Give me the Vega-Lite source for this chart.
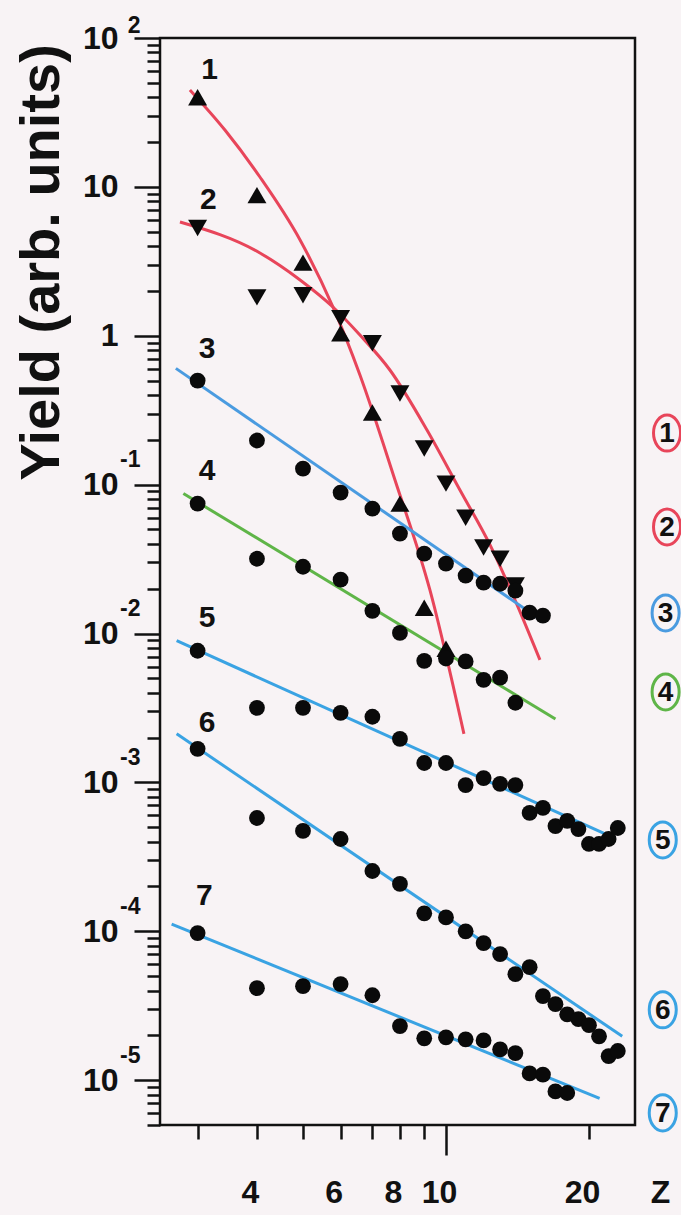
{
  "$schema": "https://vega.github.io/schema/vega-lite/v6.json",
  "width": 475,
  "height": 1087,
  "autosize": "none",
  "padding": {"left": 160, "top": 38, "right": 46, "bottom": 90},
  "background": "#f8f3f5",
  "config": {
    "view": {"stroke": "#111111", "strokeWidth": 2.5},
    "font": "Liberation Sans",
    "axis": {"grid": false}
  },
  "datasets": {
    "curves": [
      {"s": "1", "i": 0, "Z": 2.89, "Y": 44.8},
      {"s": "1", "i": 1, "Z": 3.425, "Y": 24.1},
      {"s": "1", "i": 2, "Z": 4.058, "Y": 11.65},
      {"s": "1", "i": 3, "Z": 4.93, "Y": 4.4},
      {"s": "1", "i": 4, "Z": 5.78, "Y": 1.561},
      {"s": "1", "i": 5, "Z": 6.59, "Y": 0.545},
      {"s": "1", "i": 6, "Z": 7.81, "Y": 0.1075},
      {"s": "1", "i": 7, "Z": 9.25, "Y": 0.01963},
      {"s": "1", "i": 8, "Z": 10.91, "Y": 0.002117},
      {"s": "2", "i": 0, "Z": 2.754, "Y": 5.81},
      {"s": "2", "i": 1, "Z": 4.058, "Y": 3.6},
      {"s": "2", "i": 2, "Z": 4.93, "Y": 2.37},
      {"s": "2", "i": 3, "Z": 5.78, "Y": 1.561},
      {"s": "2", "i": 4, "Z": 6.59, "Y": 1.012},
      {"s": "2", "i": 5, "Z": 7.62, "Y": 0.589},
      {"s": "2", "i": 6, "Z": 9.12, "Y": 0.233},
      {"s": "2", "i": 7, "Z": 10.7, "Y": 0.0921},
      {"s": "2", "i": 8, "Z": 12.38, "Y": 0.0394},
      {"s": "2", "i": 9, "Z": 13.97, "Y": 0.01683},
      {"s": "2", "i": 10, "Z": 15.77, "Y": 0.00665},
      {"s": "3", "i": 0, "Z": 2.70, "Y": 0.604},
      {"s": "3", "i": 1, "Z": 15.6, "Y": 0.01277},
      {"s": "4", "i": 0, "Z": 2.80, "Y": 0.0871},
      {"s": "4", "i": 1, "Z": 17.0, "Y": 0.00267},
      {"s": "5", "i": 0, "Z": 2.71, "Y": 0.00895},
      {"s": "5", "i": 1, "Z": 22.1, "Y": 0.000437},
      {"s": "6", "i": 0, "Z": 2.71, "Y": 0.00212},
      {"s": "6", "i": 1, "Z": 23.5, "Y": 0.0000197},
      {"s": "7", "i": 0, "Z": 2.645, "Y": 0.0001117},
      {"s": "7", "i": 1, "Z": 21.06, "Y": 0.00000755}
    ],
    "points": [
      {"s": "1", "m": "up", "Z": 3, "Y": 40},
      {"s": "1", "m": "up", "Z": 4, "Y": 8.8},
      {"s": "1", "m": "up", "Z": 5, "Y": 3.1},
      {"s": "1", "m": "up", "Z": 6, "Y": 1.04},
      {"s": "1", "m": "up", "Z": 7, "Y": 0.305},
      {"s": "1", "m": "up", "Z": 8, "Y": 0.0746},
      {"s": "1", "m": "up", "Z": 9, "Y": 0.0149},
      {"s": "1", "m": "up", "Z": 10, "Y": 0.0079},
      {"s": "2", "m": "down", "Z": 3, "Y": 5.3},
      {"s": "2", "m": "down", "Z": 4, "Y": 1.81},
      {"s": "2", "m": "down", "Z": 5, "Y": 1.87},
      {"s": "2", "m": "down", "Z": 6, "Y": 1.31},
      {"s": "2", "m": "down", "Z": 7, "Y": 0.89},
      {"s": "2", "m": "down", "Z": 8, "Y": 0.41},
      {"s": "2", "m": "down", "Z": 9, "Y": 0.175},
      {"s": "2", "m": "down", "Z": 10, "Y": 0.1016},
      {"s": "2", "m": "down", "Z": 11, "Y": 0.06},
      {"s": "2", "m": "down", "Z": 12, "Y": 0.0378},
      {"s": "2", "m": "down", "Z": 13, "Y": 0.0318},
      {"s": "2", "m": "down", "Z": 14, "Y": 0.021},
      {"s": "3", "m": "circle", "Z": 3, "Y": 0.5},
      {"s": "3", "m": "circle", "Z": 4, "Y": 0.198},
      {"s": "3", "m": "circle", "Z": 5, "Y": 0.128},
      {"s": "3", "m": "circle", "Z": 6, "Y": 0.0885},
      {"s": "3", "m": "circle", "Z": 7, "Y": 0.069},
      {"s": "3", "m": "circle", "Z": 8, "Y": 0.0469},
      {"s": "3", "m": "circle", "Z": 9, "Y": 0.0344},
      {"s": "3", "m": "circle", "Z": 10, "Y": 0.0295},
      {"s": "3", "m": "circle", "Z": 11, "Y": 0.0245},
      {"s": "3", "m": "circle", "Z": 12, "Y": 0.022},
      {"s": "3", "m": "circle", "Z": 13, "Y": 0.0216},
      {"s": "3", "m": "circle", "Z": 14, "Y": 0.0194},
      {"s": "3", "m": "circle", "Z": 15, "Y": 0.0138},
      {"s": "3", "m": "circle", "Z": 16, "Y": 0.0132},
      {"s": "4", "m": "circle", "Z": 3, "Y": 0.0746},
      {"s": "4", "m": "circle", "Z": 4, "Y": 0.0318},
      {"s": "4", "m": "circle", "Z": 5, "Y": 0.0281},
      {"s": "4", "m": "circle", "Z": 6, "Y": 0.023},
      {"s": "4", "m": "circle", "Z": 7, "Y": 0.0142},
      {"s": "4", "m": "circle", "Z": 8, "Y": 0.0101},
      {"s": "4", "m": "circle", "Z": 9, "Y": 0.00656},
      {"s": "4", "m": "circle", "Z": 10, "Y": 0.0068},
      {"s": "4", "m": "circle", "Z": 11, "Y": 0.0065},
      {"s": "4", "m": "circle", "Z": 12, "Y": 0.00489},
      {"s": "4", "m": "circle", "Z": 13, "Y": 0.00505},
      {"s": "4", "m": "circle", "Z": 14, "Y": 0.00343},
      {"s": "5", "m": "circle", "Z": 3, "Y": 0.00766},
      {"s": "5", "m": "circle", "Z": 4, "Y": 0.00317},
      {"s": "5", "m": "circle", "Z": 5, "Y": 0.00317},
      {"s": "5", "m": "circle", "Z": 6, "Y": 0.00293},
      {"s": "5", "m": "circle", "Z": 7, "Y": 0.00276},
      {"s": "5", "m": "circle", "Z": 8, "Y": 0.00196},
      {"s": "5", "m": "circle", "Z": 9, "Y": 0.00135},
      {"s": "5", "m": "circle", "Z": 10, "Y": 0.00135},
      {"s": "5", "m": "circle", "Z": 11, "Y": 0.00096},
      {"s": "5", "m": "circle", "Z": 12, "Y": 0.00107},
      {"s": "5", "m": "circle", "Z": 13, "Y": 0.000977},
      {"s": "5", "m": "circle", "Z": 14, "Y": 0.00096},
      {"s": "5", "m": "circle", "Z": 15, "Y": 0.000624},
      {"s": "5", "m": "circle", "Z": 16, "Y": 0.000674},
      {"s": "5", "m": "circle", "Z": 17, "Y": 0.000509},
      {"s": "5", "m": "circle", "Z": 18, "Y": 0.000551},
      {"s": "5", "m": "circle", "Z": 19, "Y": 0.000486},
      {"s": "5", "m": "circle", "Z": 20, "Y": 0.000386},
      {"s": "5", "m": "circle", "Z": 21, "Y": 0.000386},
      {"s": "5", "m": "circle", "Z": 22, "Y": 0.000417},
      {"s": "5", "m": "circle", "Z": 23, "Y": 0.000494},
      {"s": "6", "m": "circle", "Z": 3, "Y": 0.00168},
      {"s": "6", "m": "circle", "Z": 4, "Y": 0.000577},
      {"s": "6", "m": "circle", "Z": 5, "Y": 0.000472},
      {"s": "6", "m": "circle", "Z": 6, "Y": 0.000417},
      {"s": "6", "m": "circle", "Z": 7, "Y": 0.000254},
      {"s": "6", "m": "circle", "Z": 8, "Y": 0.000208},
      {"s": "6", "m": "circle", "Z": 9, "Y": 0.000132},
      {"s": "6", "m": "circle", "Z": 10, "Y": 0.000124},
      {"s": "6", "m": "circle", "Z": 11, "Y": 0.0001},
      {"s": "6", "m": "circle", "Z": 12, "Y": 0.0000833},
      {"s": "6", "m": "circle", "Z": 13, "Y": 0.0000703},
      {"s": "6", "m": "circle", "Z": 14, "Y": 0.0000515},
      {"s": "6", "m": "circle", "Z": 15, "Y": 0.0000574},
      {"s": "6", "m": "circle", "Z": 16, "Y": 0.0000367},
      {"s": "6", "m": "circle", "Z": 17, "Y": 0.0000324},
      {"s": "6", "m": "circle", "Z": 18, "Y": 0.0000277},
      {"s": "6", "m": "circle", "Z": 19, "Y": 0.0000257},
      {"s": "6", "m": "circle", "Z": 20, "Y": 0.0000234},
      {"s": "6", "m": "circle", "Z": 21, "Y": 0.0000197},
      {"s": "6", "m": "circle", "Z": 22, "Y": 0.0000145},
      {"s": "6", "m": "circle", "Z": 23, "Y": 0.0000157},
      {"s": "7", "m": "circle", "Z": 3, "Y": 0.0000973},
      {"s": "7", "m": "circle", "Z": 4, "Y": 0.0000415},
      {"s": "7", "m": "circle", "Z": 5, "Y": 0.0000428},
      {"s": "7", "m": "circle", "Z": 6, "Y": 0.0000442},
      {"s": "7", "m": "circle", "Z": 7, "Y": 0.0000372},
      {"s": "7", "m": "circle", "Z": 8, "Y": 0.0000231},
      {"s": "7", "m": "circle", "Z": 9, "Y": 0.0000191},
      {"s": "7", "m": "circle", "Z": 10, "Y": 0.0000194},
      {"s": "7", "m": "circle", "Z": 11, "Y": 0.0000188},
      {"s": "7", "m": "circle", "Z": 12, "Y": 0.0000185},
      {"s": "7", "m": "circle", "Z": 13, "Y": 0.0000161},
      {"s": "7", "m": "circle", "Z": 14, "Y": 0.0000152},
      {"s": "7", "m": "circle", "Z": 15, "Y": 0.0000111},
      {"s": "7", "m": "circle", "Z": 16, "Y": 0.0000109},
      {"s": "7", "m": "circle", "Z": 17, "Y": 0.0000084},
      {"s": "7", "m": "circle", "Z": 18, "Y": 0.0000082}
    ],
    "labels": [
      {"t": "1", "Z": 3.18, "Y": 61},
      {"t": "2", "Z": 3.16, "Y": 8.14},
      {"t": "3", "Z": 3.14, "Y": 0.82},
      {"t": "4", "Z": 3.14, "Y": 0.124},
      {"t": "5", "Z": 3.14, "Y": 0.0128},
      {"t": "6", "Z": 3.14, "Y": 0.00251},
      {"t": "7", "Z": 3.1, "Y": 0.000173}
    ],
    "keys": [
      {"s": "1", "Z": 29.2, "Y": 0.222},
      {"s": "2", "Z": 29.2, "Y": 0.052},
      {"s": "3", "Z": 29.0, "Y": 0.01375},
      {"s": "4", "Z": 29.0, "Y": 0.00405},
      {"s": "5", "Z": 28.6, "Y": 0.000411},
      {"s": "6", "Z": 28.6, "Y": 0.0000297},
      {"s": "7", "Z": 28.6, "Y": 0.00000603}
    ]
  },
  "resolve": {"axis": {"x": "independent", "y": "independent"}},
  "layer": [
    {
      "data": {"name": "curves"},
      "mark": {"type": "line", "strokeWidth": 3, "clip": true, "interpolate": "monotone"},
      "encoding": {
        "x": {"field": "Z", "type": "quantitative", "scale": {"type": "log", "domain": [2.5, 25], "nice": false},
          "axis": {
            "orient": "bottom",
            "values": [3, 4, 5, 6, 7, 8, 9, 10, 20],
            "labelExpr": "indexof([4, 6, 8, 10, 20], datum.value) >= 0 ? '' + datum.value : ''",
            "domain": false,
            "tickColor": "#111111",
            "tickWidth": 2.5,
            "tickSize": {"condition": {"test": "datum.value == 10", "value": 30}, "value": 14},
            "labelFont": "Liberation Sans",
            "labelFontSize": 32,
            "labelFontWeight": "bold",
            "labelColor": "#111111",
            "labelPadding": {"condition": {"test": "datum.value == 10", "value": 22}, "value": 38},
            "labelBaseline": "top",
            "labelOffset": -7,
            "labelFlush": false,
            "labelOverlap": false,
            "labelBound": false,
            "title": "Z",
            "titleFont": "Liberation Sans",
            "titleFontSize": 32,
            "titleFontWeight": "bold",
            "titleColor": "#111111",
            "titleX": 500,
            "titleY": 52,
            "titleBaseline": "top",
            "titleAlign": "center",
            "titleAngle": 0
          }
        },
        "y": {"field": "Y", "type": "quantitative", "scale": {"type": "log", "domain": [0.000005, 100], "nice": false},
          "axis": {
            "orient": "left",
            "values": [0.000005, 0.000006, 0.000007, 0.000008, 0.000009, 0.00001, 0.00002, 0.00003, 0.00004, 0.00005, 0.00006, 0.00007, 0.00008, 0.00009, 0.0001, 0.0002, 0.0003, 0.0004, 0.0005, 0.0006, 0.0007, 0.0008, 0.0009, 0.001, 0.002, 0.003, 0.004, 0.005, 0.006, 0.007, 0.008, 0.009, 0.01, 0.02, 0.03, 0.04, 0.05, 0.06, 0.07, 0.08, 0.09, 0.1, 0.2, 0.3, 0.4, 0.5, 0.6, 0.7, 0.8, 0.9, 1, 2, 3, 4, 5, 6, 7, 8, 9, 10, 20, 30, 40, 50, 60, 70, 80, 90, 100],
            "labelExpr": "abs(log(datum.value)/LN10 - round(log(datum.value)/LN10)) < 0.001 ? (datum.value > 0.5 && datum.value < 2 ? '1' : '10') : ''",
            "domain": false,
            "tickColor": "#111111",
            "tickWidth": 2.5,
            "tickSize": {"condition": {"test": "abs(log(datum.value)/LN10 - round(log(datum.value)/LN10)) < 0.001", "value": 26}, "value": 13},
            "labelFont": "Liberation Sans",
            "labelFontSize": 32,
            "labelFontWeight": "bold",
            "labelColor": "#111111",
            "labelPadding": 16,
            "labelBaseline": "middle",
            "labelFlush": false,
            "labelOverlap": false,
            "labelBound": false,
            "title": "Yield (arb. units)",
            "titleFont": "Liberation Sans",
            "titleFontSize": 56,
            "titleFontWeight": "bold",
            "titleColor": "#111111",
            "titleAngle": -90,
            "titleX": -102,
            "titleY": 224,
            "titleAlign": "center",
            "titleBaseline": "alphabetic"
          }
        },
        "color": {"field": "s", "type": "nominal", "scale": {"domain": ["1", "2", "3", "4", "5", "6", "7"], "range": ["#e8455a", "#e8455a", "#4a9be0", "#5fb548", "#3aa3e3", "#3aa3e3", "#3aa3e3"]}, "legend": null},
        "order": {"field": "i", "type": "quantitative"}
      }
    },
    {
      "data": {"name": "points"},
      "mark": {"type": "point", "filled": true, "color": "#0a0a0a", "opacity": 1},
      "encoding": {
        "x": {"field": "Z", "type": "quantitative", "scale": {"type": "log", "domain": [2.5, 25], "nice": false}, "axis": null},
        "y": {"field": "Y", "type": "quantitative", "scale": {"type": "log", "domain": [0.000005, 100], "nice": false},
          "axis": {
            "orient": "left",
            "values": [0.00001, 0.0001, 0.001, 0.01, 0.1, 100],
            "labelExpr": "'' + round(log(datum.value)/LN10)",
            "domain": false,
            "ticks": false,
            "tickSize": 0,
            "labelFont": "Liberation Sans",
            "labelFontSize": 23,
            "labelFontWeight": "bold",
            "labelColor": "#111111",
            "labelPadding": 20,
            "labelAlign": "right",
            "labelBaseline": "middle",
            "labelOffset": {"condition": {"test": "datum.value > 50", "value": -13}, "value": -25},
            "labelFlush": false,
            "labelOverlap": false,
            "labelBound": false,
            "title": null
          }
        },
        "shape": {"field": "m", "type": "nominal", "scale": {"domain": ["circle", "up", "down"], "range": ["circle", "triangle-up", "triangle-down"]}, "legend": null},
        "size": {"condition": {"test": "datum.m == 'circle'", "value": 250}, "value": 360}
      }
    },
    {
      "data": {"name": "labels"},
      "mark": {"type": "text", "font": "Liberation Sans", "fontSize": 30, "fontWeight": "bold", "color": "#111111", "align": "center", "baseline": "middle"},
      "encoding": {
        "x": {"field": "Z", "type": "quantitative", "scale": {"type": "log", "domain": [2.5, 25], "nice": false}, "axis": null},
        "y": {"field": "Y", "type": "quantitative", "scale": {"type": "log", "domain": [0.000005, 100], "nice": false}, "axis": null},
        "text": {"field": "t"}
      }
    },
    {
      "data": {"name": "keys"},
      "mark": {"type": "point", "filled": false, "strokeWidth": 3, "opacity": 1, "size": 1300, "shape": "M0,-1A0.75,1 0 1,1 0,1A0.75,1 0 1,1 0,-1Z"},
      "encoding": {
        "x": {"field": "Z", "type": "quantitative", "scale": {"type": "log", "domain": [2.5, 25], "nice": false}, "axis": null},
        "y": {"field": "Y", "type": "quantitative", "scale": {"type": "log", "domain": [0.000005, 100], "nice": false}, "axis": null},
        "color": {"field": "s", "type": "nominal", "legend": null}
      }
    },
    {
      "data": {"name": "keys"},
      "mark": {"type": "text", "font": "Liberation Sans", "fontSize": 28, "fontWeight": "bold", "color": "#111111", "align": "center", "baseline": "middle", "dy": 1},
      "encoding": {
        "x": {"field": "Z", "type": "quantitative", "scale": {"type": "log", "domain": [2.5, 25], "nice": false}, "axis": null},
        "y": {"field": "Y", "type": "quantitative", "scale": {"type": "log", "domain": [0.000005, 100], "nice": false}, "axis": null},
        "text": {"field": "s"}
      }
    }
  ]
}
